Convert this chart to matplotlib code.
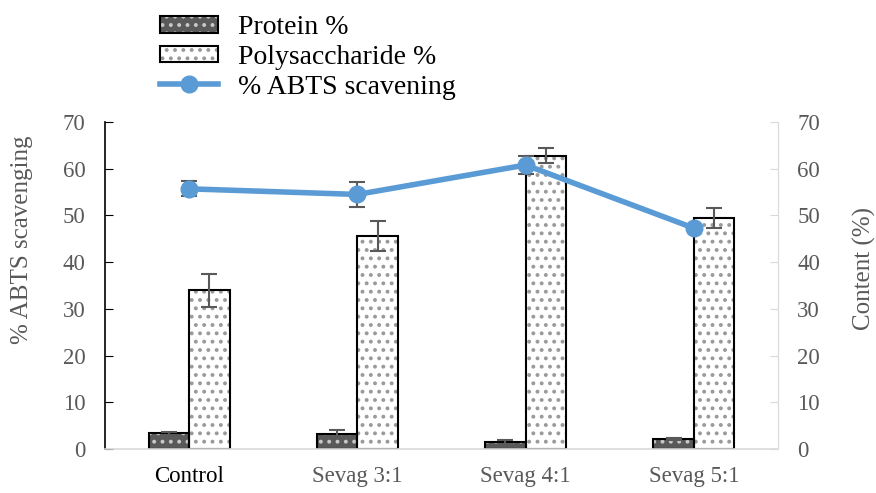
import numpy as np
import matplotlib.pyplot as plt
from matplotlib.patches import Patch
from matplotlib.lines import Line2D

plt.rcParams['font.family'] = ['Liberation Serif', 'DejaVu Serif']
plt.rcParams['hatch.linewidth'] = 1.6

categories = ["Control", "Sevag 3:1", "Sevag 4:1", "Sevag 5:1"]
protein = [3.4, 3.2, 1.5, 2.1]
protein_err = [0.3, 0.9, 0.4, 0.2]
polysaccharide = [34.0, 45.6, 62.8, 49.4]
polysaccharide_err = [3.5, 3.2, 1.6, 2.1]
abts = [55.7, 54.5, 60.8, 47.3]
abts_err = [1.6, 2.7, 2.0, 0.0]

gray = "#595959"
blue = "#5B9BD5"

fig = plt.figure(figsize=(8.76, 4.93), dpi=100)
ax = fig.add_axes([0.12, 0.089, 0.768, 0.6635])
ax2 = ax.twinx()

x = np.arange(len(categories))
w = 0.24

# bars on the right (content) axis: fill+hatch first, then black outline
ax2.bar(x - w / 2, protein, w, color=gray, hatch="..", edgecolor="#c8c8c8", linewidth=0, zorder=2)
ax2.bar(x - w / 2, protein, w, fill=False, edgecolor="black", linewidth=1.5, zorder=3)
ax2.bar(x + w / 2, polysaccharide, w, color="white", hatch="..", edgecolor="#9a9a9a", linewidth=0, zorder=2)
ax2.bar(x + w / 2, polysaccharide, w, fill=False, edgecolor="black", linewidth=1.5, zorder=3)
ax2.errorbar(x - w / 2, protein, yerr=protein_err, fmt="none", ecolor=gray, elinewidth=1.5, capsize=6, capthick=1.5, zorder=4)
ax2.errorbar(x + w / 2, polysaccharide, yerr=polysaccharide_err, fmt="none", ecolor=gray, elinewidth=1.5, capsize=6, capthick=1.5, zorder=4)

# line on top
ax.set_zorder(ax2.get_zorder() + 1)
ax.patch.set_visible(False)
ax.errorbar(x, abts, yerr=abts_err, fmt="none", ecolor=gray, elinewidth=1.5, capsize=6, capthick=1.5, zorder=4)
ax.plot(x, abts, color=blue, linewidth=4, marker="o", markersize=12, zorder=5)

for a in (ax, ax2):
    a.set_ylim(0, 70)
    a.set_yticks(range(0, 71, 10))
    a.set_xlim(-0.5, 3.5)
    a.spines["top"].set_visible(False)
    a.tick_params(axis="y", direction="in", labelsize=16.5, labelcolor=gray, pad=14, length=6)

ax.spines["left"].set_color("black")
ax.spines["left"].set_linewidth(1.2)
ax.spines["right"].set_visible(False)
ax.spines["bottom"].set_color("#D9D9D9")
ax.spines["bottom"].set_linewidth(1.2)
ax.tick_params(axis="y", color="black")
ax2.spines["left"].set_visible(False)
ax2.spines["bottom"].set_visible(False)
ax2.spines["right"].set_color("#D9D9D9")
ax2.tick_params(axis="y", color="#D9D9D9")

ax.set_xticks(x)
ax.set_xticklabels(categories)
ax.tick_params(axis="x", length=0, labelsize=16.5, labelcolor=gray, pad=12)
ax.get_xticklabels()[0].set_color("black")

ax.set_ylabel("% ABTS scavenging", fontsize=18, color=gray)
ax.yaxis.set_label_coords(-0.107, 0.639)
ax2.set_ylabel("Content (%)", fontsize=18, color=gray)
ax2.yaxis.set_label_coords(1.111, 0.553)

h_protein = (Patch(facecolor=gray, hatch="..", edgecolor="#c8c8c8", linewidth=0),
             Patch(fill=False, edgecolor="black", linewidth=1.5))
h_poly = (Patch(facecolor="white", hatch="..", edgecolor="#9a9a9a", linewidth=0),
          Patch(fill=False, edgecolor="black", linewidth=1.5))
h_line = Line2D([], [], color=blue, linewidth=4, marker="o", markersize=12)
fig.legend([h_protein, h_poly, h_line], ["Protein %", "Polysaccharide %", "% ABTS scavening"],
           loc="upper left", bbox_to_anchor=(0.154, 1.02), frameon=False, fontsize=20,
           handlelength=2.1, handleheight=0.55, labelspacing=0.17, handletextpad=0.7)

fig.savefig("out.png", dpi=100)
